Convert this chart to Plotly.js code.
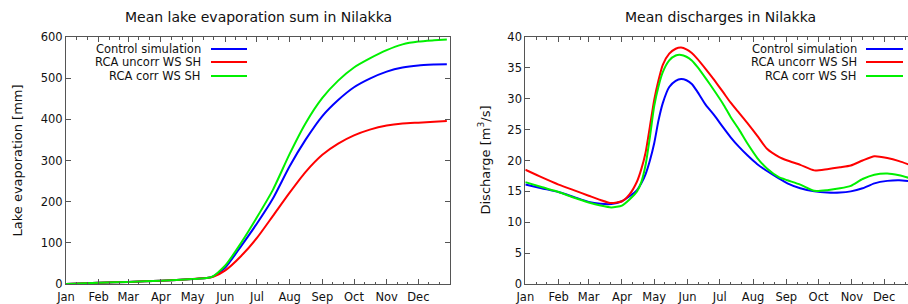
<!DOCTYPE html>
<html>
<head>
<meta charset="utf-8">
<script src="https://cdn.plot.ly/plotly-3.0.1.min.js"></script>
<style>html,body{margin:0;padding:0;overflow:hidden;background:#fff}#chart{width:917px;height:304px}</style>
</head>
<body>
<div id="chart"></div>
<script>
// ---- data ----
const monthLabels = ['Jan','Feb','Mar','Apr','May','Jun','Jul','Aug','Sep','Oct','Nov','Dec'];
const monthStartDays = [0,31,59,90,120,151,181,212,243,273,304,334];
const seriesNames = ['Control simulation','RCA uncorr WS SH','RCA corr WS SH'];

// Left: cumulative lake evaporation [mm]
const evapDays  = [0,31,59,90,120,135,140,151,166,181,196,212,227,243,258,273,288,304,319,334,349,361];
const evapCtrl  = [0,3,5,8,12,15,19,40,92,147,207,286,350,408,447,478,499,516,526,531,533,534];
const evapUncorr= [0,3,5,8,12,15,18,33,68,112,165,222,272,314,341,361,375,385,390,392,394,396];
const evapCorr  = [0,3,5,8,12,15,20,45,100,162,228,316,390,452,494,526,548,568,582,589,592,594];

// Right: mean discharges [m3/s]
const qDays   = [0,15,31,45,59,70,80,90,97,104,108,112,116,120,124,128,134,140,145,150,155,160,168,176,184,191,199,207,216,225,236,244,256,269,281,293,303,314,325,337,348,361];
const qCtrl   = [16.1,15.5,14.9,14.1,13.3,13.0,12.95,13.4,14.2,15.2,16.3,17.8,20.0,22.8,26.5,29.3,31.9,32.9,33.2,33.0,32.4,31.2,29.0,27.3,25.4,23.8,22.2,20.8,19.4,18.3,17.1,16.3,15.5,15.0,14.8,14.8,15.0,15.5,16.3,16.7,16.8,16.6];
const qUncorr = [18.5,17.3,16.1,15.2,14.3,13.6,13.1,13.4,14.5,16.6,18.6,21.3,25.5,29.8,33.0,35.5,37.3,38.1,38.3,38.0,37.4,36.5,34.8,33.0,31.1,29.4,27.7,26.0,24.0,21.9,20.6,20.0,19.3,18.4,18.6,18.9,19.2,20.0,20.7,20.4,19.9,19.1];
const qCorr   = [16.5,15.7,14.9,14.0,13.2,12.7,12.4,12.7,13.7,15.0,16.5,19.3,23.8,28.8,32.0,34.3,36.2,37.0,37.1,36.8,36.2,35.2,33.3,31.3,29.2,27.1,25.0,22.7,20.4,18.7,17.3,16.8,16.1,15.1,15.2,15.5,15.9,17.0,17.7,17.9,17.6,17.0];

// ---- styling ----
const W = 917, H = 304;
const colors = ['rgb(0,0,255)','rgb(255,0,0)','rgb(0,240,0)'];
const font = 'DejaVu Sans, sans-serif';
const axisColor = '#555';
const minorDays = monthStartDays.flatMap(d => [d+10, d+20]);

function line(x, y, i, xa, ya) {
  return {x: x, y: y, type: 'scatter', mode: 'lines', name: seriesNames[i],
    xaxis: xa, yaxis: ya, showlegend: false, hoverinfo: 'skip',
    line: {color: colors[i], width: 2, shape: 'spline', smoothing: 0.6}};
}
const traces = [
  line(evapDays, evapCtrl, 0, 'x', 'y'),
  line(evapDays, evapUncorr, 1, 'x', 'y'),
  line(evapDays, evapCorr, 2, 'x', 'y'),
  line(qDays, qCtrl, 0, 'x2', 'y2'),
  line(qDays, qUncorr, 1, 'x2', 'y2'),
  line(qDays, qCorr, 2, 'x2', 'y2')
];

function xaxis(domain, anchor) {
  return {domain: domain, anchor: anchor, range: [0, 364], showgrid: false, zeroline: false,
    showline: true, linecolor: axisColor, linewidth: 1, mirror: 'allticks',
    ticks: 'inside', ticklen: 5, tickcolor: axisColor, tickwidth: 1,
    tickmode: 'array', tickvals: monthStartDays, ticktext: monthLabels,
    ticklabelstandoff: 2,
    tickfont: {family: font, size: 11.5, color: '#111'},
    minor: {tickvals: minorDays, ticks: 'inside', ticklen: 2.5, tickcolor: axisColor, tickwidth: 1, showgrid: false},
    fixedrange: true};
}
function yaxis(range, dtick, anchor) {
  return {domain: [0, 1], anchor: anchor, range: range, dtick: dtick, tick0: 0, showgrid: false, zeroline: false,
    showline: true, linecolor: axisColor, linewidth: 1, mirror: 'allticks',
    ticks: 'inside', ticklen: 5, tickcolor: axisColor, tickwidth: 1,
    tickfont: {family: font, size: 11.5, color: '#111'}, fixedrange: true};
}

const L0 = 66/W, L1 = 450/W, R0 = 525.3/W, R1 = 916.3/W;
const py = p => (284 - p) / 247;   // pixel row -> paper y
const px = p => p / W;             // pixel col -> paper x

const annotations = [
  {text: 'Mean lake evaporation sum in Nilakka', x: px(258), y: py(17), xref: 'paper', yref: 'paper', showarrow: false, xanchor: 'center', yanchor: 'middle', font: {family: font, size: 14, color: '#111'}},
  {text: 'Mean discharges in Nilakka', x: px(720.6), y: py(17), xref: 'paper', yref: 'paper', showarrow: false, xanchor: 'center', yanchor: 'middle', font: {family: font, size: 14, color: '#111'}},
  {text: 'Lake evaporation [mm]', x: px(17), y: py(160.5), xref: 'paper', yref: 'paper', showarrow: false, textangle: -90, xanchor: 'center', yanchor: 'middle', font: {family: font, size: 13, color: '#111'}},
  {text: 'Discharge [m<sup>3</sup>/s]', x: px(484), y: py(160.5), xref: 'paper', yref: 'paper', showarrow: false, textangle: -90, xanchor: 'center', yanchor: 'middle', font: {family: font, size: 13, color: '#111'}}
];
const shapes = [];
const rows = [49, 62, 76];
[[203, 211, 247], [859, 866, 903]].forEach(([tx, l0, l1]) => {
  seriesNames.forEach((n, i) => {
    annotations.push({text: n, x: px(tx), y: py(rows[i]), xref: 'paper', yref: 'paper', showarrow: false,
      xanchor: 'right', yanchor: 'middle', font: {family: font, size: 11.5, color: '#111'}});
    shapes.push({type: 'line', xref: 'paper', yref: 'paper', x0: px(l0), x1: px(l1), y0: py(rows[i]), y1: py(rows[i]),
      line: {color: colors[i], width: 2}});
  });
});

const layout = {
  width: W, height: H, margin: {l: 0, r: 0, t: 37, b: 20},
  paper_bgcolor: '#fff', plot_bgcolor: '#fff', showlegend: false,
  xaxis: xaxis([L0, L1], 'y'), yaxis: yaxis([0, 600], 100, 'x'),
  xaxis2: xaxis([R0, R1], 'y2'), yaxis2: yaxis([0, 40], 5, 'x2'),
  annotations: annotations, shapes: shapes
};
Plotly.newPlot('chart', traces, layout, {displayModeBar: false, staticPlot: true});
</script>
</body>
</html>
